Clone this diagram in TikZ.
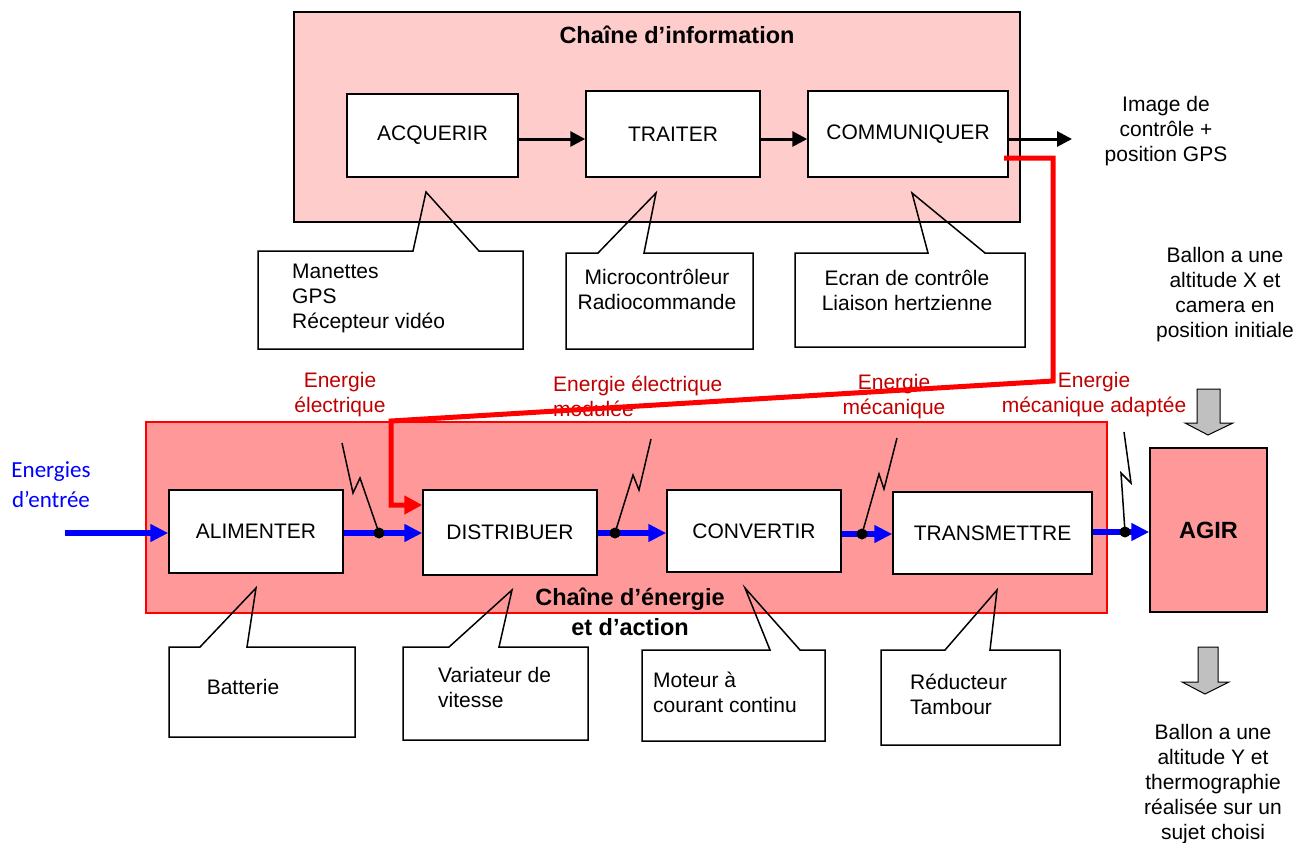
\documentclass[tikz,border=0pt]{standalone}
\usepackage{fontspec}
\setmainfont{Liberation Sans}
\newfontfamily\calibrifont{Carlito}
\usetikzlibrary{arrows.meta}
\definecolor{infopink}{RGB}{255,204,204}
\definecolor{energypink}{RGB}{255,153,153}
\definecolor{labelred}{RGB}{192,0,0}
\definecolor{linkred}{RGB}{255,0,0}
\definecolor{flowblue}{RGB}{0,0,255}
\definecolor{arrowgray}{RGB}{192,192,192}
% speech-bubble outline: style, left, top, right, bottom, tail base 1, tail tip x, tail tip y, tail base 2
\newcommand{\speechshape}[9]{\draw[#1] (#2,#3) -- (#6,#3) -- (#7,#8) -- (#9,#3) -- (#4,#3) -- (#4,#5) -- (#2,#5) -- cycle;}

\begin{document}
\begin{tikzpicture}[x=1pt,y=-1pt,
  txt/.style={font=\fontsize{21}{25}\selectfont, inner sep=0pt, align=center},
  ttl/.style={font=\fontsize{23.5}{30}\selectfont\bfseries, inner sep=0pt, align=center},
  redtxt/.style={txt, text=labelred},
  block/.style={draw=black, line width=1.5pt, fill=white, font=\fontsize{21}{25}\selectfont, inner sep=0pt},
  bubble/.style={draw=black, line width=1.5pt, line join=miter},
  flow/.style={draw=flowblue, line width=5.5pt, -{Triangle[length=18pt,width=17pt]}},
  signal/.style={draw=black, line width=3pt, -{Triangle[length=15pt,width=15pt]}},
  ctrl/.style={draw=linkred, line width=5pt, line join=miter, -{Triangle[length=18pt,width=18pt]}},
  bolt/.style={draw=black, line width=1.5pt, line join=miter},
  junction/.style={circle, fill=black, inner sep=0pt, minimum size=11pt},
  grayarrow/.style={draw=black, line width=1pt, fill=arrowgray, line join=miter}]
\useasboundingbox (0,0) rectangle (1293,843);

% ---------- information chain ----------
\fill[infopink] (294,12) rectangle (1020,222);
\speechshape{bubble}{258}{251}{523}{349}{413}{426}{192}{479}
\speechshape{bubble}{566}{253}{753}{349}{598}{656}{193}{644}
\speechshape{bubble}{795}{253}{1025}{347}{928}{912}{193}{985}
\draw[black, line width=1.5pt] (294,12) rectangle (1020,222);
\node[ttl] (infotitle) at (677,35) {Chaîne d’information};

\node[block, minimum width=171, minimum height=83] (acq) at (432.5,135.5) {ACQUERIR};
\node[block, minimum width=174, minimum height=86] (trt) at (673,134) {TRAITER};
\node[block, minimum width=200, minimum height=86] (com) at (908,134) {COMMUNIQUER};

\node[txt, align=left, anchor=west] (capteurs) at (292,298) {Manettes\\GPS\\Récepteur vidéo};
\node[txt] (calcul) at (657,289) {Microcontrôleur\\Radiocommande};
\node[txt] (liaison) at (907,290) {Ecran de contrôle\\Liaison hertzienne};

\coordinate (imgout) at (1072,139);
\draw[signal] (acq.east |- 0,139) -- (trt.west |- 0,139);
\draw[signal] (trt.east |- 0,139) -- (com.west |- 0,139);
\draw[signal] (com.east |- 0,139) -- (imgout);
\node[txt] (image) at (1166,131) {Image de\\contrôle +\\position GPS};

% ---------- energy and action chain ----------
\fill[energypink] (146,422) rectangle (1107,613);
\draw[linkred, line width=1.5pt] (146,422) rectangle (1107,613);
\speechshape{bubble}{169}{647}{355}{737}{200}{256}{588}{247}
\speechshape{bubble}{403}{647}{588}{740}{449}{512}{590}{499}
\speechshape{bubble}{642}{650}{825}{741}{770}{745}{588}{800}
\speechshape{bubble}{881}{650}{1060}{745}{945}{997}{590}{990}

\node[block, minimum width=174, minimum height=83] (ali) at (256,531.5) {ALIMENTER};
\node[block, minimum width=174, minimum height=85] (dis) at (510,532.5) {DISTRIBUER};
\node[block, minimum width=174, minimum height=82] (cnv) at (754,531) {CONVERTIR};
\node[block, minimum width=199, minimum height=82] (tsm) at (992.5,533) {TRANSMETTRE};
\node[draw=black, line width=1.5pt, fill=energypink, minimum width=117, minimum height=164, inner sep=0pt,
      font=\fontsize{23.5}{30}\selectfont\bfseries] (agir) at (1208.5,530) {AGIR};

\node[ttl] (energytitle) at (630,612) {Chaîne d’énergie\\et d’action};

\node[txt] (batt) at (243,687) {Batterie};
\node[txt, align=left, anchor=west] (vari) at (438,687.5) {Variateur de\\vitesse};
\node[txt, align=left, anchor=west] (mot) at (653,692) {Moteur à\\courant continu};
\node[txt, align=left, anchor=west] (red) at (910,694) {Réducteur\\Tambour};

% energy flow
\coordinate (ein) at (65,533);
\draw[flow] (ein) -- (ali.west |- 0,533);
\draw[flow] (ali.east |- 0,533) -- (dis.west |- 0,533);
\draw[flow] (dis.east |- 0,533) -- (cnv.west |- 0,533);
\draw[flow] (cnv.east |- 0,534) -- (tsm.west |- 0,534);
\draw[flow] (tsm.east |- 0,532) -- (agir.west |- 0,532);

\node[txt, text=flowblue, font=\calibrifont\fontsize{23}{30}\selectfont] (ein lbl) at (51,485) {Energies\\d’entrée};

% energy labels
\node[redtxt] (e1) at (340,395) {Energie\\électrique};
\node[redtxt, align=left, anchor=west] (e2) at (553,396) {Energie électrique\\modulée};
\node[redtxt] (e3) at (894,397) {Energie\\mécanique};
\node[redtxt] (e4) at (1094,395) {Energie\\mécanique adaptée};

% junctions with their bolts
\node[junction] (j1) at (379,533) {};
\node[junction] (j2) at (615,533) {};
\node[junction] (j3) at (862,534) {};
\node[junction] (j4) at (1125,532) {};
\draw[bolt] (j1.center) -- (360,478) -- (353,493) -- (342,443);
\draw[bolt] (j2.center) -- (633,475) -- (639,490) -- (651,439);
\draw[bolt] (j3.center) -- (879,474) -- (884,489) -- (897,438);
\draw[bolt] (j4.center) -- (1121,473) -- (1131,483) -- (1124,432);

% control order from the information chain
\coordinate (tap) at (1004,158);
\draw[ctrl] (tap) -- (1053,158) -- (1053,381) -- (391,421) -- (391,505) -- (dis.west |- 0,505);

% matter in / matter out
\draw[grayarrow] (1197,389) -- (1220,389) -- (1220,423) -- (1233,423) -- (1208,435) -- (1185,423) -- (1197,423) -- cycle;
\draw[grayarrow] (1198,647) -- (1218,647) -- (1218,682) -- (1229,682) -- (1205,694) -- (1182,682) -- (1198,682) -- cycle;
\node[txt] (min) at (1225,295) {Ballon a une\\altitude X et\\camera en\\position initiale};
\node[txt] (mout) at (1213,784) {Ballon a une\\altitude Y et\\thermographie\\réalisée sur un\\sujet choisi};
\end{tikzpicture}
\end{document}
